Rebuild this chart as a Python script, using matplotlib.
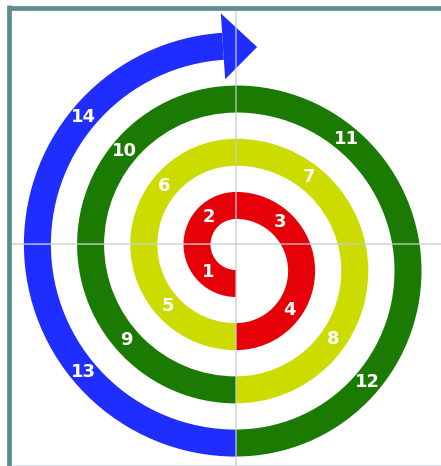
import numpy as np
import matplotlib
matplotlib.use("Agg")
import matplotlib.pyplot as plt
from matplotlib.patches import Wedge, Polygon

# ---- data ----
segments = list(range(1, 15))                       # segment numbers
group_of = [0, 0, 0, 0, 1, 1, 1, 1, 2, 2, 2, 2, 3, 3]
group_colors = ["#E60008", "#CCDB00", "#1A7A02", "#1F2DFF"]
# visual angle of each label inside its quadrant (deg from horizontal)
label_deg = [45, 45, 48, 36, 42, 39, 52, 35, 41, 40, 50, 40, 40, 40]

# ---- layout (pixels) ----
W, H = 441, 466
CX = 236.0
left_c = (CX, H - 244.5)
right_c = (CX, H - 271.0)
r0, step, band = 39.0, 26.6, 27.0

fig = plt.figure(figsize=(W / 100, H / 100), dpi=100)
ax = fig.add_axes([0, 0, 1, 1])
ax.set_xlim(0, W)
ax.set_ylim(0, H)
ax.set_aspect("auto")
ax.axis("off")

# quadrant angle ranges (visual, y up): LL, UL, UR, LR
quad = {0: (180, 270), 1: (90, 180), 2: (0, 90), 3: (270, 360)}


def polar(c, r, a):
    t = np.deg2rad(a)
    return c[0] + r * np.cos(t), c[1] + r * np.sin(t)


arrow_end = None
for i, seg in enumerate(segments):
    half = i // 2
    rmid = r0 + step * half
    q = i % 4
    c = left_c if q in (0, 1) else right_c
    a1, a2 = quad[q]
    col = group_colors[group_of[i]]
    if seg == segments[-1]:
        # shaft stops where the arrow head starts
        a1 = 90 + np.rad2deg(np.arcsin(13.0 / rmid))
        arrow_end = (c, rmid, a1)
    ax.add_patch(Wedge(c, rmid + band / 2, a1, a2, width=band,
                       facecolor=col, edgecolor="none", zorder=2))
    # label
    d = label_deg[i]
    if q == 0:
        la = 180 + d
    elif q == 1:
        la = 180 - d
    elif q == 2:
        la = d
    else:
        la = 360 - d
    lx, ly = polar(c, rmid, la)
    ax.text(lx, ly, str(seg), color="white", fontsize=13, fontweight="bold",
            family=["DejaVu Sans"],
            ha="center", va="center", zorder=5)

# arrow head on the last (blue) segment
c, rmid, a_base = arrow_end
b1 = polar(c, rmid + 33, a_base)
b2 = polar(c, rmid - 33, a_base)
tip = polar(c, rmid, 83.9)
ax.add_patch(Polygon([b1, tip, b2], closed=True,
                     facecolor=group_colors[3], edgecolor="none", zorder=2))

# light cross lines
gcol = "#C2CDD3"
ax.plot([CX - 0.5, CX - 0.5], [0, H - 10], color=gcol, lw=1.3, alpha=0.7, zorder=3)
ax.plot([11, W], [H - 243.5, H - 243.5], color=gcol, lw=1.3, alpha=0.7, zorder=3)

# frame
fcol = "#5F8B90"
ax.plot([9, 9], [0, H - 5], color=fcol, lw=3.4, solid_capstyle="butt", zorder=6)
ax.plot([7, W], [H - 7.5, H - 7.5], color=fcol, lw=3.4, solid_capstyle="butt", zorder=6)
ax.plot([11, W], [H - 465, H - 465], color="#E2E6E8", lw=1.0, zorder=1)

fig.savefig("out.png", dpi=100)
